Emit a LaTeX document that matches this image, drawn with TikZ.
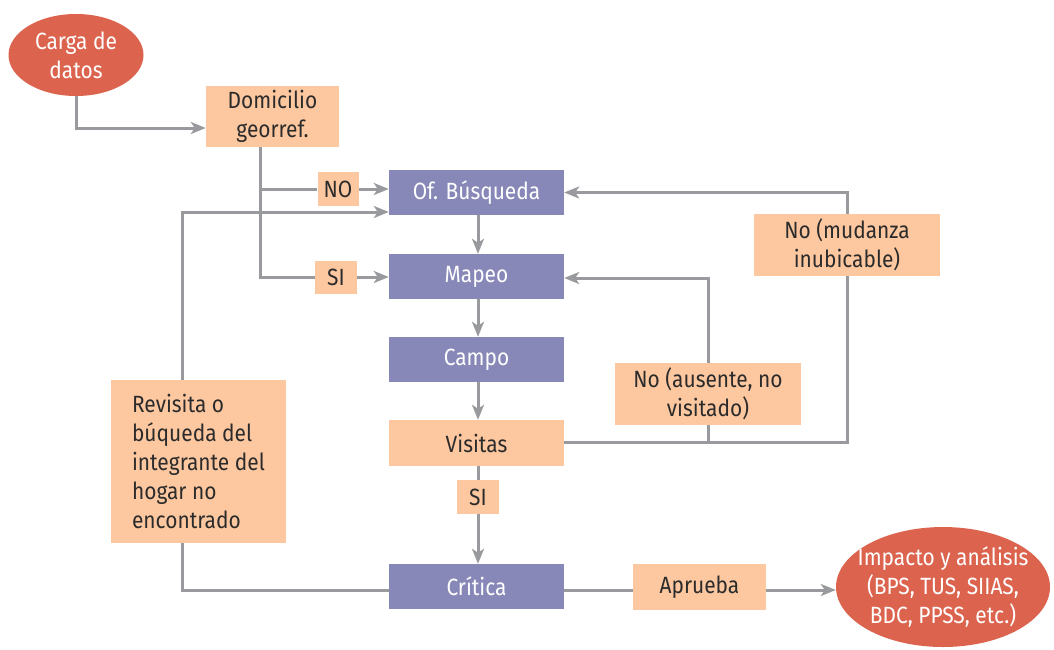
\documentclass[tikz,border=0pt]{standalone}
\usepackage{fontspec}
\setmainfont{Fira Sans}[FakeStretch=0.89]
\usetikzlibrary{arrows.meta,shapes.geometric}
\definecolor{lin}{HTML}{999A9E}
\definecolor{peach}{HTML}{FDC8A0}
\definecolor{purp}{HTML}{8788B8}
\definecolor{redd}{HTML}{DC644E}
\definecolor{txt}{HTML}{2B2B2B}
\tikzset{
  base/.style={inner sep=0pt, align=center, font=\fontsize{23.5}{29}\selectfont},
  pbox/.style={base, rectangle, fill=peach, text=txt},
  vbox/.style={base, rectangle, fill=purp, text=white, minimum width=175pt, minimum height=45pt},
  ell/.style={base, ellipse, fill=redd, text=white},
  conn/.style={draw=lin, line width=3pt},
  arr/.style={conn, -{Stealth[length=15pt,width=12pt,inset=4pt]}}
}
\begin{document}
\begin{tikzpicture}[x=1pt,y=-1pt]
\useasboundingbox (0,0) rectangle (1054,649);
% nodes
\node[ell, minimum width=135pt, minimum height=82pt] (carga) at (76,55) {Carga de\\datos};
\node[pbox, minimum width=133pt, minimum height=61pt] (dom) at (272.5,116.5) {Domicilio\\georref.};
\node[vbox] (ofb) at (476.5,192.5) {Of. Búsqueda};
\node[vbox] (map) at (476.5,276.5) {Mapeo};
\node[vbox] (campo) at (476.5,359.5) {Campo};
\node[pbox, minimum width=175pt, minimum height=46pt] (vis) at (476.5,443) {Visitas};
\node[vbox] (crit) at (476.5,586.5) {Crítica};
\node[pbox, minimum width=133pt, minimum height=46pt] (apr) at (699.5,587) {Aprueba};
\node[ell, inner xsep=-12pt, inner ysep=-4pt, minimum width=214pt, minimum height=120pt] (imp) at (943,587) {Impacto y análisis\\(BPS, TUS, SIIAS,\\BDC, PPSS, etc.)};
\node[pbox, minimum height=163pt, minimum width=175pt, align=left] (rev) at (198.5,461.5) {Revisita o\\búqueda del\\integrante del\\hogar no\\encontrado};
\node[pbox, minimum width=41pt, minimum height=34pt] (no) at (338,189) {NO};
\node[pbox, minimum width=42pt, minimum height=33pt] (si1) at (336,277) {SI};
\node[pbox, minimum width=42pt, minimum height=34pt] (si2) at (478,497) {SI};
\node[pbox, minimum width=186pt, minimum height=62pt] (mud) at (847,245) {No (mudanza\\inubicable)};
\node[pbox, minimum width=186pt, minimum height=62pt] (aus) at (708,394) {No (ausente, no\\visitado)};
% helper coordinates
\coordinate (dx) at ([xshift=-12.5pt]dom.south);
\coordinate (rtop) at ([xshift=-16.5pt]rev.north);
\coordinate (rbot) at ([xshift=-16.5pt]rev.south);
\coordinate (ofin) at ([yshift=-19.5pt]ofb.west);
\coordinate (cr) at ([yshift=-3.5pt]crit.west);
\coordinate (cre) at ([yshift=-3.5pt]crit.east);
\coordinate (ve) at ([yshift=1pt]vis.east);
% connectors
\draw[arr] (carga.south) |- ([yshift=-11.5pt]dom.west);
\draw[conn] (dx) |- (si1.west);
\draw[conn] (dx |- no.west) -- (no.west);
\draw[arr] (no.east) -- (no.east -| ofb.west);
\draw[arr] (si1.east) -- (si1.east -| map.west);
\draw[arr] ([xshift=1.5pt]ofb.south) -- ([xshift=1.5pt]map.north);
\draw[arr] ([xshift=1.5pt]map.south) -- ([xshift=1.5pt]campo.north);
\draw[arr] ([xshift=1.5pt]campo.south) -- ([xshift=1.5pt]vis.north);
\draw[conn] ([xshift=1.5pt]vis.south) -- (si2.north);
\draw[arr] (si2.south) -- ([xshift=1.5pt]crit.north);
\draw[conn] (ve) -| (mud.south);
\draw[arr] (mud.north) |- (ofb.east);
\draw[conn] (aus.south) -- (aus.south |- ve);
\draw[arr] (aus.north) |- ([yshift=-1.5pt]map.east);
\draw[conn] (cr) -| (rbot);
\draw[arr] (rtop) |- (ofin);
\draw[conn] (cre) -- (cre -| apr.west);
\draw[arr] (cre -| apr.east) -- (cre -| imp.west);
\end{tikzpicture}
\end{document}
